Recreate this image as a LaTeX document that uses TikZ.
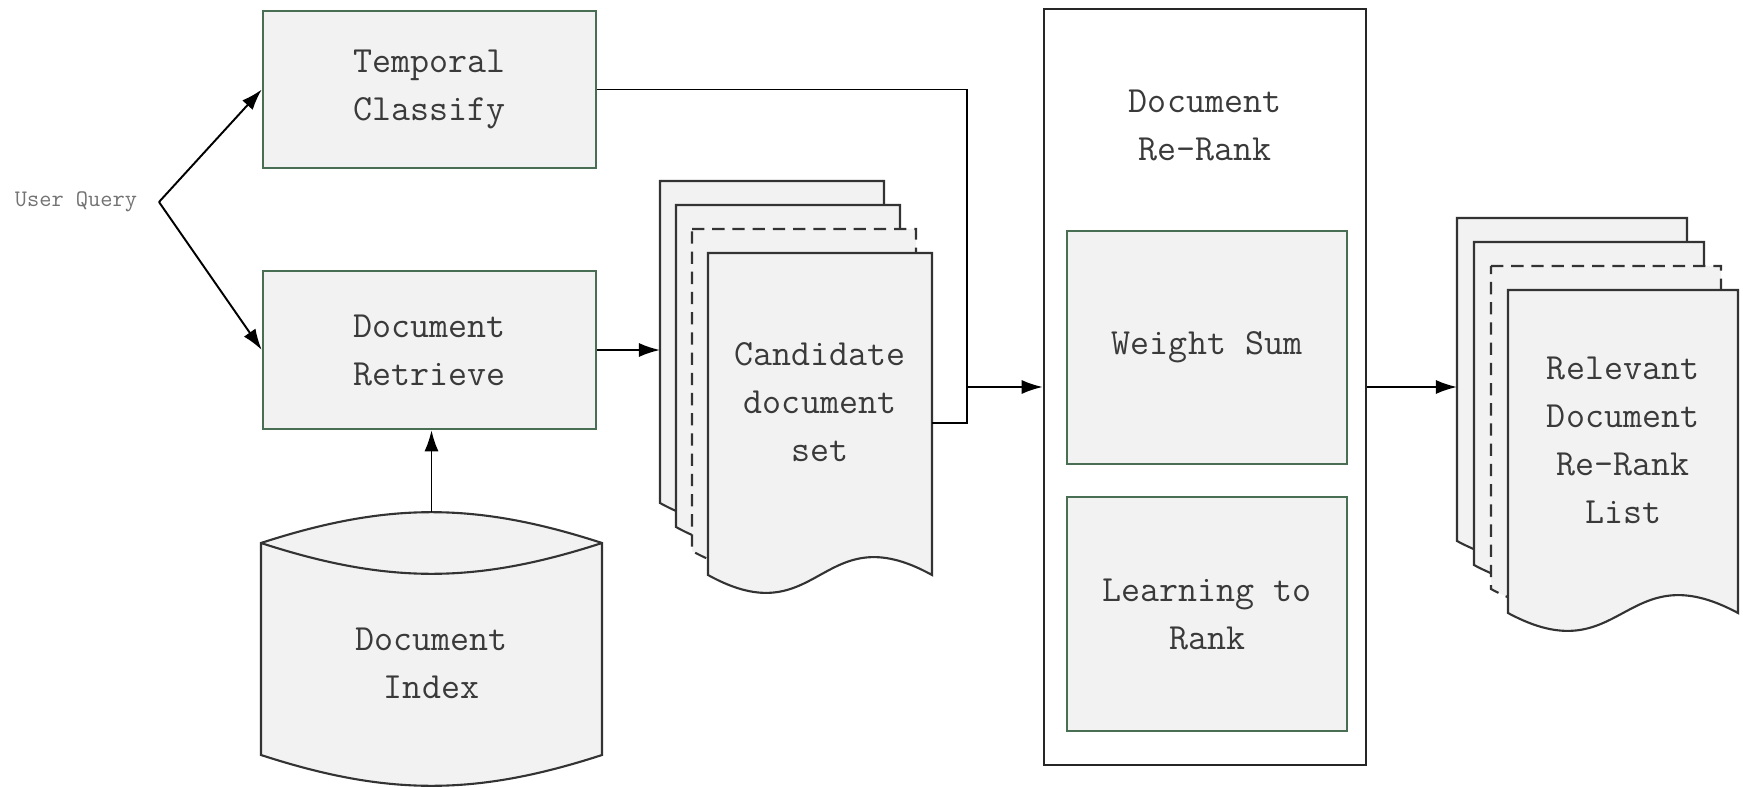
\documentclass[tikz,border=0pt]{standalone}
\usepackage{fontspec}
\usepackage{tikz}
\usetikzlibrary{arrows.meta}

\definecolor{boxgreen}{RGB}{72,110,84}
\definecolor{boxfill}{RGB}{242,242,242}
\definecolor{txtgray}{RGB}{58,58,58}

\begin{document}
\begin{tikzpicture}[
    >={Latex[length=12pt,width=8pt]},
    line width=1.1pt,
    every node/.style={font=\ttfamily\fontsize{21}{27.3}\selectfont, text=txtgray, align=center},
    procbox/.style={draw=boxgreen, line width=1.4pt, fill=boxfill},
    docpage/.style={draw=black!80, line width=1.2pt, fill=boxfill},
    longdash/.style={dash pattern=on 7pt off 4.5pt}]
  \useasboundingbox (0,0) rectangle (34.86,15.72);

  \node[text=black!55] (uq) at (1.52,11.68) {\fontsize{13.5}{16}\selectfont User Query};
  \coordinate (fork) at (3.18,11.68);

  \node[procbox, minimum width=6.66cm, minimum height=3.14cm] (tc) at (8.59,13.93)
    {Temporal\\Classify};
  \node[procbox, minimum width=6.66cm, minimum height=3.16cm] (dr) at (8.59,8.72)
    {Document\\Retrieve};

  % index store
  \draw[docpage] (5.22,4.86) to[bend left=18] (12.04,4.86) -- (12.04,0.62)
    to[bend left=18] (5.22,0.62) -- cycle;
  \draw[docpage, fill=none] (5.22,4.86) to[bend right=18] (12.04,4.86);
  \node (idx) at (8.63,2.46) {Document\\Index};
  \coordinate (idxtop) at (8.63,5.48);

  % candidate pages, back to front
  \foreach \i/\ls in {3/solid,2/solid,1/longdash,0/solid} {
    \begin{scope}[shift={(14.16-0.32*\i,10.66+0.48*\i)}]
      \draw[docpage,\ls] (0,0) -- (4.48,0) -- (4.48,-6.44)
        .. controls (2.24,-5.20) and (2.24,-7.68) .. (0,-6.44) -- cycle;
    \end{scope}
  }
  \node (cand) at (16.40,7.68) {Candidate\\document\\set};

  % re-rank block
  \node[draw=black!85, line width=1.4pt, fill=white, minimum width=6.44cm,
    minimum height=15.12cm] (rr) at (24.10,7.98) {};
  \node (rrt) at (24.10,13.21) {Document\\Re-Rank};
  \node[procbox, minimum width=5.60cm, minimum height=4.66cm] (ws) at (24.14,8.77)
    {Weight Sum};
  \node[procbox, minimum width=5.60cm, minimum height=4.68cm] (ltr) at (24.14,3.44)
    {Learning to\\Rank};

  % result pages
  \foreach \i/\ls in {3/solid,2/solid,1/longdash,0/solid} {
    \begin{scope}[shift={(30.16-0.34*\i,9.92+0.48*\i)}]
      \draw[docpage,\ls] (0,0) -- (4.60,0) -- (4.60,-6.46)
        .. controls (2.30,-5.22) and (2.30,-7.70) .. (0,-6.46) -- cycle;
    \end{scope}
  }
  \node (rel) at (32.46,6.92) {Relevant\\Document\\Re-Rank\\List};

  \coordinate (cin) at (13.20,8.72);
  \coordinate (cout) at (18.64,7.26);
  \coordinate (jn) at (19.34,7.98);
  \coordinate (oin) at (29.14,7.98);

  \draw[->] (fork) -- (tc.west);
  \draw[->] (fork) -- (dr.west);
  \draw[->] (idxtop) -- (idxtop |- dr.south);
  \draw[->] (dr.east) -- (cin);
  \draw (tc.east) -| (jn) |- (cout);
  \draw[->] (jn) -- (rr.west);
  \draw[->] (rr.east) -- (oin);
\end{tikzpicture}
\end{document}
